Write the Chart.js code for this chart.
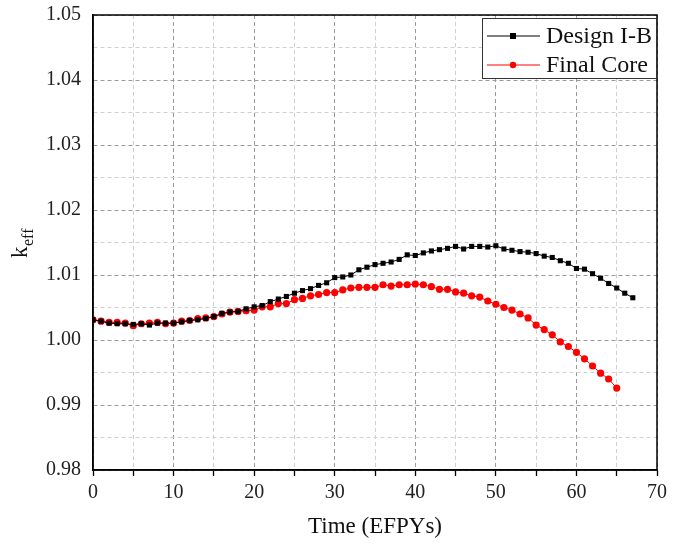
<!DOCTYPE html>
<html>
<head>
<meta charset="utf-8">
<script src="https://cdn.jsdelivr.net/npm/chart.js@4/dist/chart.umd.min.js"></script>
<style>
  html, body { margin: 0; padding: 0; background: #fff; }
  #wrap { width: 686px; height: 545px; }
</style>
</head>
<body>
<div id="wrap"><canvas id="myChart" width="686" height="545"></canvas></div>
<script>
// time axis (EFPY) for each series
const yearsDesign = [0, 1, 2, 3, 4, 5, 6, 7, 8, 9, 10, 11, 12, 13, 14, 15, 16, 17, 18, 19,
    20, 21, 22, 23, 24, 25, 26, 27, 28, 29, 30, 31, 32, 33, 34, 35, 36, 37, 38, 39,
    40, 41, 42, 43, 44, 45, 46, 47, 48, 49, 50, 51, 52, 53, 54, 55, 56, 57, 58, 59,
    60, 61, 62, 63, 64, 65, 66, 67];
const yearsFinal = [0, 1, 2, 3, 4, 5, 6, 7, 8, 9, 10, 11, 12, 13, 14, 15, 16, 17, 18, 19,
    20, 21, 22, 23, 24, 25, 26, 27, 28, 29, 30, 31, 32, 33, 34, 35, 36, 37, 38, 39,
    40, 41, 42, 43, 44, 45, 46, 47, 48, 49, 50, 51, 52, 53, 54, 55, 56, 57, 58, 59,
    60, 61, 62, 63, 64, 65];

// keff values
const keffDesign = [1.0031, 1.0029, 1.0026, 1.0025, 1.0025, 1.0024, 1.0025, 1.0023, 1.0026, 1.0026,
    1.0026, 1.0028, 1.0030, 1.0031, 1.0033, 1.0036, 1.0041, 1.0043, 1.0044, 1.0048,
    1.0051, 1.0053, 1.0059, 1.0063, 1.0067, 1.0072, 1.0076, 1.0079, 1.0084, 1.0088,
    1.0096, 1.0097, 1.0100, 1.0108, 1.0112, 1.0116, 1.0118, 1.0120, 1.0124, 1.0131,
    1.0130, 1.0134, 1.0137, 1.0139, 1.0141, 1.0144, 1.0140, 1.0144, 1.0144, 1.0143,
    1.0145, 1.0140, 1.0138, 1.0136, 1.0135, 1.0133, 1.0129, 1.0127, 1.0122, 1.0118,
    1.0110, 1.0109, 1.0102, 1.0095, 1.0087, 1.0080, 1.0072, 1.0065];
const keffFinal = [1.0031, 1.0029, 1.0027, 1.0027, 1.0026, 1.0022, 1.0025, 1.0026, 1.0027, 1.0025,
    1.0026, 1.0029, 1.0030, 1.0033, 1.0034, 1.0036, 1.0040, 1.0043, 1.0044, 1.0045,
    1.0046, 1.0051, 1.0051, 1.0056, 1.0056, 1.0062, 1.0064, 1.0068, 1.0070, 1.0073,
    1.0073, 1.0077, 1.0080, 1.0081, 1.0081, 1.0081, 1.0085, 1.0083, 1.0085, 1.0085,
    1.0086, 1.0085, 1.0082, 1.0078, 1.0078, 1.0074, 1.0072, 1.0068, 1.0066, 1.0060,
    1.0055, 1.0050, 1.0046, 1.0040, 1.0034, 1.0023, 1.0016, 1.0008, 0.9997, 0.9990,
    0.9981, 0.9971, 0.9960, 0.9949, 0.9940, 0.9926];

const seriesNames = ["Design I-B", "Final Core"];

const serif = "'Liberation Serif', 'DejaVu Serif', serif";

function toPoints(xs, ys) {
    return xs.map((x, i) => ({ x: x, y: ys[i] }));
}

// frame + y title + legend box, drawn after the chart
const extras = {
    id: 'extras',
    afterDraw(chart) {
        const ctx = chart.ctx;
        const a = chart.chartArea;
        ctx.save();
        // solid box round the plot
        ctx.setLineDash([]);
        ctx.strokeStyle = '#000';
        ctx.lineWidth = 1.5;
        ctx.strokeRect(a.left, a.top, a.right - a.left, a.bottom - a.top);

        // y title k_eff
        ctx.translate(27, 243);
        ctx.rotate(-Math.PI / 2);
        ctx.fillStyle = '#111';
        ctx.textBaseline = 'alphabetic';
        ctx.font = '23px ' + serif;
        ctx.fillText('k', -15, 0);
        ctx.font = '16px ' + serif;
        ctx.fillText('eff', -3, 6);
        ctx.restore();

        // legend
        ctx.save();
        ctx.setLineDash([]);
        const bx = 482, by = 18, bw = 174, bh = 60;
        ctx.fillStyle = '#fff';
        ctx.fillRect(bx, by, bw, bh);
        ctx.strokeStyle = '#333';
        ctx.lineWidth = 1;
        ctx.strokeRect(bx + 0.5, by + 0.5, bw, bh);
        const rows = [36, 65];
        chart.data.datasets.forEach((ds, i) => {
            const y = rows[i];
            ctx.strokeStyle = ds.borderColor;
            ctx.lineWidth = 1;
            ctx.beginPath();
            ctx.moveTo(487, y);
            ctx.lineTo(540, y);
            ctx.stroke();
            ctx.fillStyle = ds.pointBackgroundColor;
            if (ds.pointStyle === 'rect') {
                ctx.fillRect(510, y - 3, 6, 6);
            } else {
                ctx.beginPath();
                ctx.arc(513, y, 3.2, 0, Math.PI * 2);
                ctx.fill();
            }
            ctx.fillStyle = '#111';
            ctx.font = '24px ' + serif;
            ctx.textBaseline = 'middle';
            ctx.fillText(ds.label, 546, y + 1);
        });
        ctx.restore();
    }
};

function generateGraph() {
    const ctx = document.getElementById('myChart').getContext('2d');
    new Chart(ctx, {
        type: 'line',
        data: {
            datasets: [
                {
                    label: seriesNames[0],
                    data: toPoints(yearsDesign, keffDesign),
                    borderColor: '#000',
                    borderWidth: 1,
                    pointStyle: 'rect',
                    pointRadius: 3.6,
                    pointBackgroundColor: '#000',
                    pointBorderColor: '#000',
                    pointBorderWidth: 0,
                    tension: 0
                },
                {
                    label: seriesNames[1],
                    data: toPoints(yearsFinal, keffFinal),
                    borderColor: '#ff0000',
                    borderWidth: 1,
                    pointStyle: 'circle',
                    pointRadius: 3.6,
                    pointBackgroundColor: '#ff0000',
                    pointBorderColor: '#ff0000',
                    pointBorderWidth: 0,
                    tension: 0
                }
            ]
        },
        options: {
            responsive: false,
            animation: false,
            layout: { padding: { top: 15, right: 29, left: 0, bottom: 0 } },
            plugins: {
                legend: { display: false },
                tooltip: { enabled: false }
            },
            scales: {
                x: {
                    type: 'linear',
                    min: 0,
                    max: 70,
                    afterFit: (s) => {
                        s.height = 75;
                        s.paddingLeft = 0;
                        s.paddingRight = 0;
                    },
                    ticks: {
                        stepSize: 5,
                        autoSkip: false,
                        maxRotation: 0,
                        color: '#222',
                        padding: 5,
                        font: { family: serif, size: 20 },
                        callback: (v) => (v % 10 === 0 ? String(v) : '')
                    },
                    grid: {
                        color: (c) => (c.tick && c.tick.value % 10 === 0 ? '#9a9a9a' : '#d0d0d0'),
                        tickColor: '#000',
                        tickBorderDash: [],
                        tickLength: 6,
                        tickWidth: 1.3
                    },
                    border: { color: '#000', width: 1.5, dash: [4, 3] },
                    title: {
                        display: true,
                        text: 'Time (EFPYs)',
                        color: '#111',
                        font: { family: serif, size: 23 },
                        padding: { top: 3 }
                    }
                },
                y: {
                    min: 0.98,
                    max: 1.05,
                    afterFit: (s) => {
                        s.width = 93;
                        s.paddingTop = 0;
                        s.paddingBottom = 0;
                    },
                    ticks: {
                        stepSize: 0.005,
                        autoSkip: false,
                        color: '#222',
                        padding: 12,
                        font: { family: serif, size: 20 },
                        callback: (v) => {
                            const m = Math.round(v * 1000);
                            return m % 10 === 0 ? (m / 1000).toFixed(2) : '';
                        }
                    },
                    grid: {
                        color: (c) => {
                            if (!c.tick) return '#d0d0d0';
                            const m = Math.round(c.tick.value * 1000);
                            return m % 10 === 0 ? '#9a9a9a' : '#d0d0d0';
                        },
                        drawTicks: false
                    },
                    border: { color: '#000', width: 1.5, dash: [4, 3] }
                }
            }
        },
        plugins: [extras]
    });
}

generateGraph();
</script>
</body>
</html>
